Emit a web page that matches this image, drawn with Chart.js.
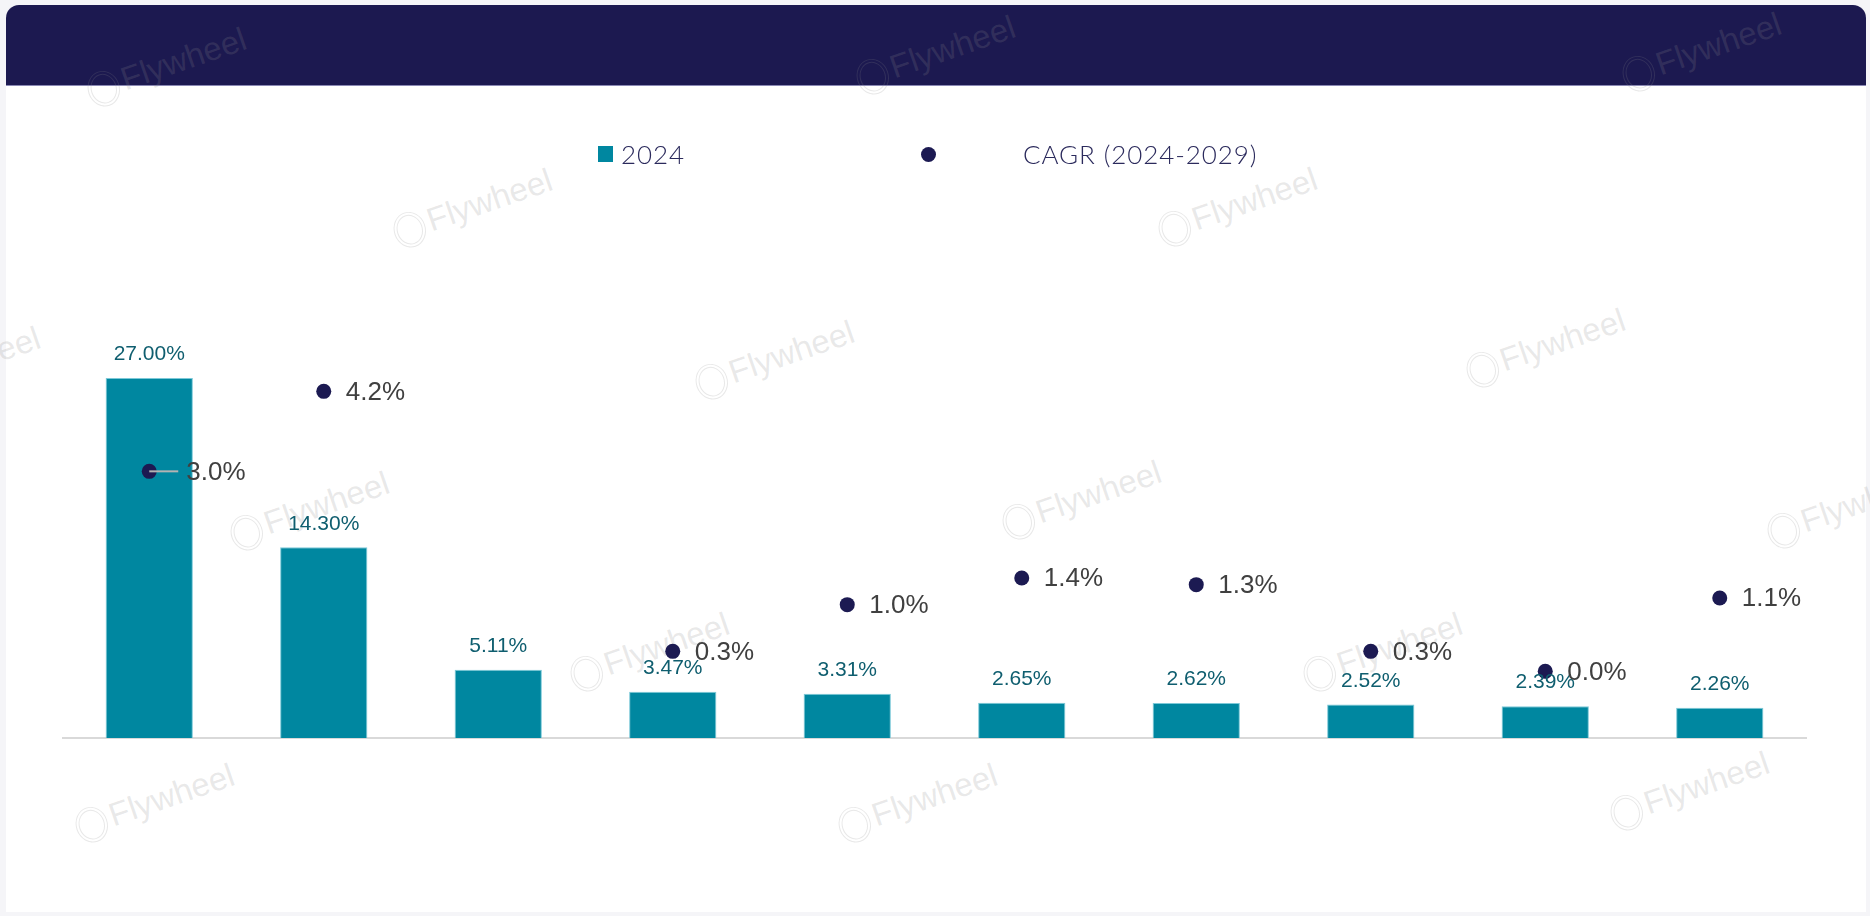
<!DOCTYPE html>
<html>
<head>
<meta charset="utf-8">
<script src="https://cdn.jsdelivr.net/npm/chart.js@4.4.1/dist/chart.umd.min.js"></script>
<style>
  html, body { margin:0; padding:0; width:1870px; height:916px; overflow:hidden; background:#f5f5f8; }
  #card { position:absolute; left:6px; top:5px; width:1860px; height:907px; background:#ffffff; border-radius:13px 13px 0 0; }
  #header { position:absolute; left:6px; top:5px; width:1860px; height:80px; background:#1c1950; border-radius:13px 13px 0 0; border-bottom:1px solid #8a88b4; }
  .wm { position:absolute; transform-origin:0 50%; transform:rotate(-19deg); white-space:nowrap; color:rgba(140,140,140,0.2);
        font-family:"Liberation Sans", Arial, sans-serif; font-size:33px; line-height:38px; height:38px; }
  .wm .ring { display:inline-block; width:32px; height:36px; border-radius:50%; border:4px double rgba(140,140,140,0.2); box-sizing:border-box; vertical-align:middle; margin-right:4px; }
  #legend { position:absolute; left:0; top:0; width:1870px; height:200px; font-family:Lato, "Noto Sans", sans-serif; font-weight:300; font-size:26px; letter-spacing:0.9px; color:#2b2a5c; }
  #legend .item { position:absolute; top:139px; height:30px; line-height:30px; }
  #legend .sw { position:absolute; }
  #chart { position:absolute; left:0; top:0; }
</style>
</head>
<body>
<div id="card"></div>
<div id="header"></div>
<div id="wms"></div>
<canvas id="chart" width="1870" height="916"></canvas>
<div id="legend"></div>
<script>
// ---- data ----
const categories = ['1', '2', '3', '4', '5', '6', '7', '8', '9', '10'];
const seriesNames = ['2024', 'CAGR (2024-2029)'];
const shareValues = [27.00, 14.30, 5.11, 3.47, 3.31, 2.65, 2.62, 2.52, 2.39, 2.26];
const cagrValues = [3.0, 4.2, null, 0.3, 1.0, 1.4, 1.3, 0.3, 0.0, 1.1];

// ---- decoration: watermarks ----
const wmSpots = [[104,92],[873,80],[1639,77],[410,233],[1175,232],[-102,391],[712,385],[1483,373],
                 [247,536],[1019,525],[1784,534],[587,677],[1320,677],[92,828],[855,828],[1627,816]];
const wmBox = document.getElementById('wms');
wmSpots.forEach(([x,y]) => {
  const d = document.createElement('div');
  d.className = 'wm';
  d.style.left = (x - 16) + 'px';
  d.style.top = (y - 19) + 'px';
  d.innerHTML = '<span class="ring"></span>Flywheel';
  wmBox.appendChild(d);
});

// ---- legend (HTML) ----
const colors = { bar:'#0087a0', dot:'#1c1a52' };
const lg = document.getElementById('legend');
lg.innerHTML =
  '<div class="sw" style="left:598px;top:146px;width:15px;height:16px;background:' + colors.bar + '"></div>' +
  '<div class="item" style="left:621px">' + seriesNames[0] + '</div>' +
  '<div class="sw" style="left:921px;top:147px;width:15px;height:15px;border-radius:50%;background:' + colors.dot + '"></div>' +
  '<div class="item" style="left:1023px">' + seriesNames[1] + '</div>';

// ---- plugins ----
const baseLine = {
  id:'baseLine',
  beforeDatasetsDraw(chart){
    const {ctx, chartArea, scales} = chart;
    const y = scales.y.getPixelForValue(0);
    ctx.save();
    ctx.strokeStyle = '#d9d9d9';
    ctx.lineWidth = 2;
    ctx.beginPath();
    ctx.moveTo(chartArea.left, y);
    ctx.lineTo(chartArea.right, y);
    ctx.stroke();
    ctx.restore();
  }
};
const valueLabels = {
  id:'valueLabels',
  afterDatasetsDraw(chart){
    const ctx = chart.ctx;
    ctx.save();
    ctx.font = '21px "Liberation Sans", Arial, sans-serif';
    ctx.fillStyle = '#0f5e6f';
    ctx.textAlign = 'center';
    ctx.textBaseline = 'middle';
    chart.getDatasetMeta(0).data.forEach((el, i) => {
      ctx.fillText(shareValues[i].toFixed(2) + '%', el.x, el.y - 23.5);
    });
    ctx.font = '26px "Liberation Sans", Arial, sans-serif';
    ctx.fillStyle = '#404040';
    ctx.textAlign = 'left';
    chart.getDatasetMeta(1).data.forEach((el, i) => {
      const v = cagrValues[i];
      if (v === null || v === undefined) return;
      let off = 22;
      if (i === 0) {
        off = 37;
        ctx.strokeStyle = '#b3b3b3';
        ctx.lineWidth = 2;
        ctx.beginPath();
        ctx.moveTo(el.x, el.y);
        ctx.lineTo(el.x + 29, el.y);
        ctx.stroke();
      }
      ctx.fillText(v.toFixed(1) + '%', el.x + off, el.y + 1);
    });
    ctx.restore();
  }
};

new Chart(document.getElementById('chart'), {
  data: {
    labels: categories,
    datasets: [
      { type:'bar', label:seriesNames[0], data:shareValues, yAxisID:'y',
        backgroundColor:colors.bar, borderColor:'rgba(110,195,212,0.9)', borderWidth:1,
        barPercentage:0.5, categoryPercentage:1.0, order:2 },
      { type:'line', label:seriesNames[1], data:cagrValues, yAxisID:'y2', showLine:false,
        pointRadius:7.5, pointHoverRadius:7.5, pointBackgroundColor:colors.dot, pointBorderColor:colors.dot,
        pointBorderWidth:0, order:1 }
    ]
  },
  options: {
    responsive:false,
    animation:false,
    layout:{ padding:{ left:62, right:63, top:338, bottom:178 } },
    plugins:{ legend:{ display:false }, tooltip:{ enabled:false } },
    scales:{
      x:{ display:false, offset:true },
      y:{ display:false, min:0, max:30 },
      y2:{ display:false, min:-1, max:5 }
    }
  },
  plugins:[baseLine, valueLabels]
});
</script>
</body>
</html>
